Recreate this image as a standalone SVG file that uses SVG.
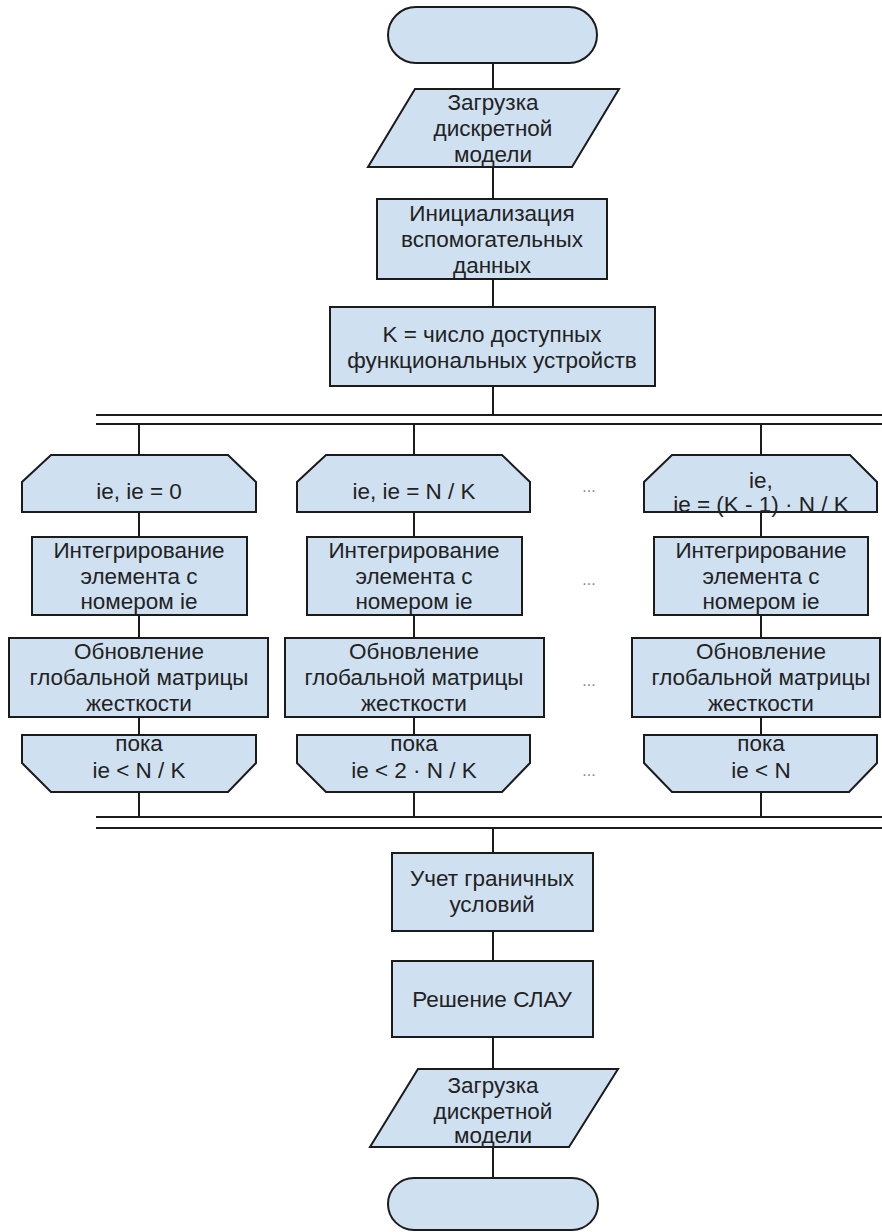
<svg xmlns="http://www.w3.org/2000/svg" width="882" height="1232" viewBox="0 0 882 1232">
<style>
.s{fill:#cfe0f1;stroke:#1b1b1b;stroke-width:2}
.c{fill:none;stroke:#1b1b1b;stroke-width:2}
text{font-family:"Liberation Sans",Arial,sans-serif;font-size:22.5px;fill:#222;text-anchor:middle}
.d{fill:#888;font-size:16px}
</style>
<rect width="882" height="1232" fill="#fff"/>
<g id="connectors">
<path class="c" d="M493,63V89M493,167V199M493,279V307M493,386V415"/>
<path class="c" d="M96,415H882M96,424H882"/>
<path class="c" d="M139,424V455M139,512V537M139,615V638M139,717V735M139,792V817"/>
<path class="c" d="M414,424V455M414,512V537M414,615V638M414,717V735M414,792V817"/>
<path class="c" d="M761,424V455M761,512V537M761,615V638M761,717V735M761,792V817"/>
<path class="c" d="M96,817H882M96,828H882"/>
<path class="c" d="M493,828V853M493,931V961M493,1037V1069M493,1147V1178"/>
</g>
<g id="start"><rect class="s" x="388" y="7" width="209" height="56" rx="28"/></g>
<g id="load1"><path class="s" d="M415,89H619L572,167H368Z"/>
<text x="493" y="110">Загрузка</text><text x="493" y="136">дискретной</text><text x="493" y="162">модели</text></g>
<g id="init"><rect class="s" x="377" y="199" width="230" height="80"/>
<text x="492" y="221">Инициализация</text><text x="492" y="247">вспомогательных</text><text x="492" y="273">данных</text></g>
<g id="k"><rect class="s" x="330" y="307" width="325" height="79"/>
<text x="492" y="342">K = число доступных</text><text x="492" y="368">функциональных устройств</text></g>

<g id="loop1"><path class="s" d="M22,512V482L51,455H228L256,482V512Z"/><text x="139" y="499">ie, ie = 0</text></g>
<g id="int1"><rect class="s" x="32" y="537" width="215" height="78"/>
<text x="139" y="558">Интегрирование</text><text x="139" y="584">элемента с</text><text x="139" y="609">номером ie</text></g>
<g id="upd1"><rect class="s" x="9" y="638" width="259" height="79"/>
<text x="139" y="659">Обновление</text><text x="139" y="685">глобальной матрицы</text><text x="139" y="711">жесткости</text></g>
<g id="end1"><path class="s" d="M22,735H256V763L228,792H51L22,763Z"/><text x="139" y="751">пока</text><text x="139" y="778">ie &lt; N / K</text></g>

<g id="loop2"><path class="s" d="M297,512V482L326,455H502L530,482V512Z"/><text x="414" y="499">ie, ie = N / K</text></g>
<g id="int2"><rect class="s" x="307" y="537" width="215" height="78"/>
<text x="414" y="558">Интегрирование</text><text x="414" y="584">элемента с</text><text x="414" y="609">номером ie</text></g>
<g id="upd2"><rect class="s" x="285" y="638" width="259" height="79"/>
<text x="414" y="659">Обновление</text><text x="414" y="685">глобальной матрицы</text><text x="414" y="711">жесткости</text></g>
<g id="end2"><path class="s" d="M297,735H530V763L502,792H326L297,763Z"/><text x="414" y="751">пока</text><text x="414" y="778">ie &lt; 2 · N / K</text></g>

<g id="loop3"><path class="s" d="M644,512V482L672,455H850L877,482V512Z"/><text x="761" y="488">ie,</text><text x="761" y="512">ie = (K - 1) · N / K</text></g>
<g id="int3"><rect class="s" x="654" y="537" width="214" height="78"/>
<text x="761" y="558">Интегрирование</text><text x="761" y="584">элемента с</text><text x="761" y="609">номером ie</text></g>
<g id="upd3"><rect class="s" x="632" y="638" width="248" height="79"/>
<text x="761" y="659">Обновление</text><text x="761" y="685">глобальной матрицы</text><text x="761" y="711">жесткости</text></g>
<g id="end3"><path class="s" d="M644,735H877V763L849,792H672L644,763Z"/><text x="761" y="751">пока</text><text x="761" y="778">ie &lt; N</text></g>

<g id="dots">
<text class="d" x="589" y="492">...</text><text class="d" x="589" y="585">...</text><text class="d" x="589" y="686">...</text><text class="d" x="589" y="776">...</text>
</g>

<g id="bc"><rect class="s" x="392" y="853" width="201" height="78"/>
<text x="492" y="886">Учет граничных</text><text x="492" y="912">условий</text></g>
<g id="slau"><rect class="s" x="392" y="961" width="201" height="76"/>
<text x="492" y="1007">Решение СЛАУ</text></g>
<g id="load2"><path class="s" d="M418,1069H618L569,1147H370Z"/>
<text x="493" y="1093">Загрузка</text><text x="493" y="1119">дискретной</text><text x="493" y="1143">модели</text></g>
<g id="end"><rect class="s" x="388" y="1178" width="210" height="52" rx="26"/></g>
</svg>
